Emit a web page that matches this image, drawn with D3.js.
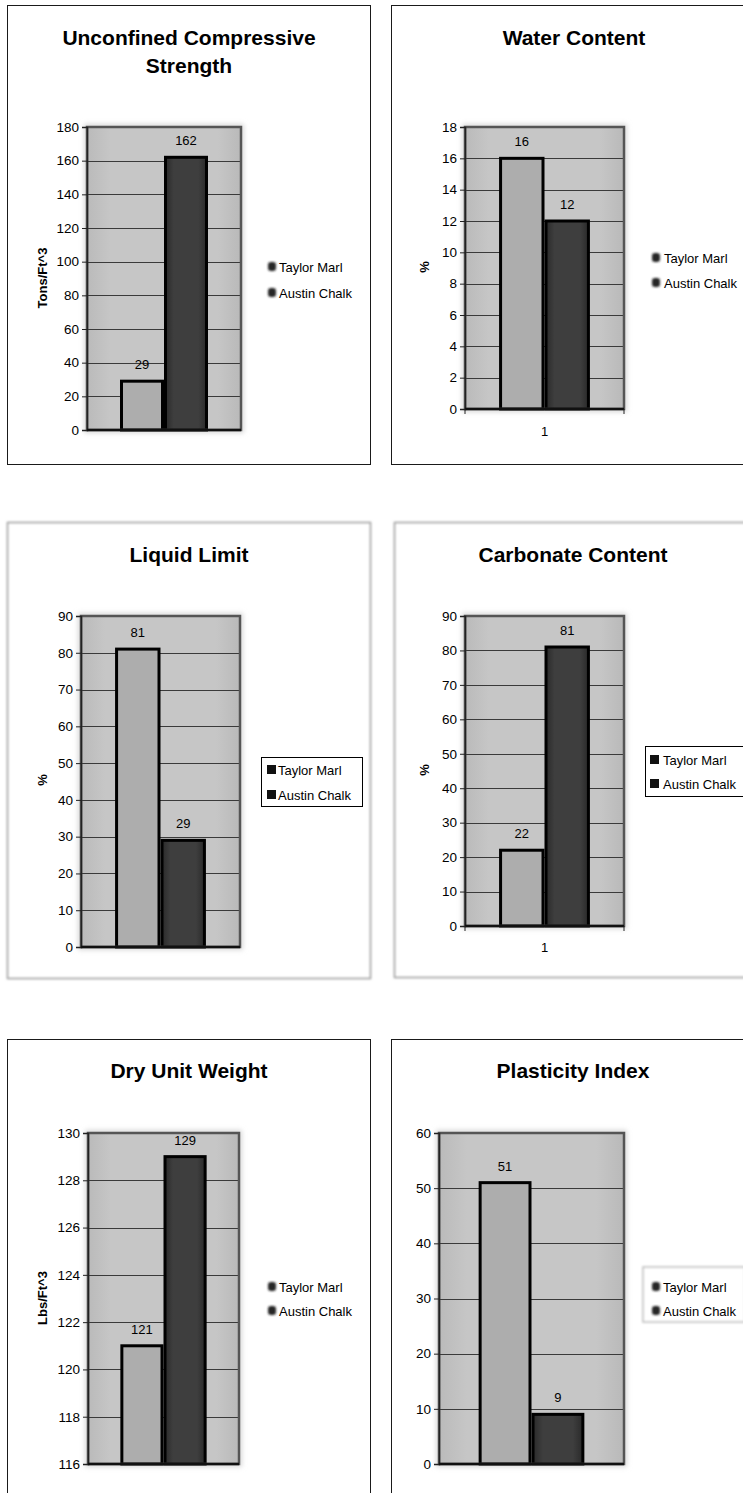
<!DOCTYPE html>
<html>
<head>
<meta charset="utf-8">
<script src="https://cdn.jsdelivr.net/npm/d3@7"></script>
<style>
  html, body { margin: 0; padding: 0; background: #fff; }
  svg { display: block; font-family: "Liberation Sans", Arial, sans-serif; }
</style>
</head>
<body>
<svg id="chart" width="743" height="1493"></svg>
<script>
// ---- data ----
const chartTitles = [
  ["Unconfined Compressive", "Strength"],
  ["Water Content"],
  ["Liquid Limit"],
  ["Carbonate Content"],
  ["Dry Unit Weight"],
  ["Plasticity Index"]
];
const seriesNames = ["Taylor Marl", "Austin Chalk"];
const taylorMarl  = [29, 16, 81, 22, 121, 51];
const austinChalk = [162, 12, 29, 81, 129, 9];
const yAxisTitles = ["Tons/Ft^3", "%", "%", "%", "Lbs/Ft^3", ""];
const categoryLabels = ["", "1", "", "1", "", ""];
const yTicks = [
  [0, 20, 40, 60, 80, 100, 120, 140, 160, 180],
  [0, 2, 4, 6, 8, 10, 12, 14, 16, 18],
  [0, 10, 20, 30, 40, 50, 60, 70, 80, 90],
  [0, 10, 20, 30, 40, 50, 60, 70, 80, 90],
  [116, 118, 120, 122, 124, 126, 128, 130],
  [0, 10, 20, 30, 40, 50, 60]
];

// ---- layout of each panel ----
const layouts = [
  { frame: [7, 5, 370, 464], frameStyle: "solid", titleX: 189, titleY: [45, 73],
    plot: [87, 127, 241, 430], yTitle: [42, 278],
    legend: { style: "soft", x: 261, y: 255, w: 0, h: 46, markX: 268, textX: 279, rows: [267, 293] } },
  { frame: [391, 5, 760, 464], frameStyle: "solid", titleX: 574, titleY: [45],
    plot: [465, 127, 624, 409], yTitle: [424, 267], catY: 436,
    legend: { style: "soft", x: 645, y: 246, w: 0, h: 50, markX: 652, textX: 664, rows: [258, 283] } },
  { frame: [7, 522, 370, 978], frameStyle: "faint", titleX: 189, titleY: [562],
    plot: [81, 616, 240, 947], yTitle: [42, 780],
    legend: { style: "box", x: 261, y: 757, w: 101, h: 49, markX: 267, textX: 278, rows: [770, 795] } },
  { frame: [394, 522, 760, 977], frameStyle: "faint", titleX: 573, titleY: [562],
    plot: [465, 616, 624, 926], yTitle: [424, 770], catY: 952,
    legend: { style: "box", x: 645, y: 746, w: 100, h: 50, markX: 650, textX: 663, rows: [760, 784] } },
  { frame: [7, 1039, 370, 1510], frameStyle: "solid", titleX: 189, titleY: [1078],
    plot: [88, 1133, 239, 1464], yTitle: [42, 1298],
    legend: { style: "soft", x: 261, y: 1275, w: 0, h: 48, markX: 268, textX: 279, rows: [1287, 1311] } },
  { frame: [391, 1039, 760, 1510], frameStyle: "solid", titleX: 573, titleY: [1078],
    plot: [439, 1133, 624, 1464], yTitle: null,
    legend: { style: "softbox", x: 643, y: 1267, w: 102, h: 55, markX: 652, textX: 663, rows: [1287, 1311] } }
];

const barFill = { "Taylor Marl": "#adadad", "Austin Chalk": "#3c3c3c" };

const svg = d3.select("#chart");
const defs = svg.append("defs");
defs.append("filter").attr("id", "soft").attr("x", "-50%").attr("y", "-50%")
  .attr("width", "200%").attr("height", "200%")
  .append("feGaussianBlur").attr("stdDeviation", 1.2);
defs.append("filter").attr("id", "haze").attr("x", "-20%").attr("y", "-20%")
  .attr("width", "140%").attr("height", "140%")
  .append("feGaussianBlur").attr("stdDeviation", 2.5);

const bgGrad = defs.append("linearGradient").attr("id", "plotbg")
  .attr("x1", "0").attr("x2", "1").attr("y1", "0").attr("y2", "0");
bgGrad.append("stop").attr("offset", "0").attr("stop-color", "#bababa");
bgGrad.append("stop").attr("offset", "0.15").attr("stop-color", "#c6c6c6");
bgGrad.append("stop").attr("offset", "0.85").attr("stop-color", "#c6c6c6");
bgGrad.append("stop").attr("offset", "1").attr("stop-color", "#b9b9b9");

const darkGrad = defs.append("linearGradient").attr("id", "darkbar")
  .attr("x1", "0").attr("x2", "1").attr("y1", "0").attr("y2", "0");
darkGrad.append("stop").attr("offset", "0").attr("stop-color", "#2a2a2a");
darkGrad.append("stop").attr("offset", "0.2").attr("stop-color", "#3e3e3e");
darkGrad.append("stop").attr("offset", "0.8").attr("stop-color", "#3e3e3e");
darkGrad.append("stop").attr("offset", "1").attr("stop-color", "#2a2a2a");

layouts.forEach((L, i) => {
  const g = svg.append("g").attr("class", "panel");
  const [fx0, fy0, fx1, fy1] = L.frame;

  // panel frame
  if (L.frameStyle === "solid") {
    g.append("rect").attr("x", fx0 + 0.5).attr("y", fy0 + 0.5)
      .attr("width", fx1 - fx0).attr("height", fy1 - fy0)
      .attr("fill", "none").attr("stroke", "#1a1a1a").attr("stroke-width", 1);
  } else {
    g.append("rect").attr("x", fx0 + 0.5).attr("y", fy0 + 0.5)
      .attr("width", fx1 - fx0).attr("height", fy1 - fy0)
      .attr("fill", "none").attr("stroke", "#9a9a9a").attr("stroke-width", 1.5)
      .attr("filter", "url(#soft)");
  }

  // title
  const title = g.append("text").attr("text-anchor", "middle")
    .attr("font-weight", "bold").attr("font-size", 21).attr("fill", "#000");
  chartTitles[i].forEach((line, k) => {
    title.append("tspan").attr("x", L.titleX).attr("y", L.titleY[k]).text(line);
  });

  const [px0, py0, px1, py1] = L.plot;
  const ticks = yTicks[i];
  const y = d3.scaleLinear().domain([ticks[0], ticks[ticks.length - 1]]).range([py1, py0]);
  const x = d3.scaleBand().domain(seriesNames).range([px0, px1])
    .paddingInner(0).paddingOuter(0.75);

  // plot background with soft edge
  g.append("rect").attr("x", px0 - 3).attr("y", py0 - 3)
    .attr("width", px1 - px0 + 6).attr("height", py1 - py0 + 6)
    .attr("fill", "#d8d8d8").attr("filter", "url(#haze)");
  g.append("rect").attr("x", px0).attr("y", py0)
    .attr("width", px1 - px0).attr("height", py1 - py0)
    .attr("fill", "url(#plotbg)");

  // gridlines
  g.append("g").selectAll("line").data(ticks.slice(1, -1)).join("line")
    .attr("x1", px0).attr("x2", px1)
    .attr("y1", d => Math.round(y(d)) + 0.5).attr("y2", d => Math.round(y(d)) + 0.5)
    .attr("stroke", "#3a3a3a").attr("stroke-width", 1);

  // bars
  const values = [taylorMarl[i], austinChalk[i]];
  const bars = seriesNames.map((s, k) => ({ series: s, value: values[k] }));
  g.append("g").selectAll("rect").data(bars).join("rect")
    .attr("x", d => x(d.series) + 1.5)
    .attr("y", d => y(d.value))
    .attr("width", x.bandwidth() - 3)
    .attr("height", d => y(ticks[0]) - y(d.value))
    .attr("fill", d => d.series === "Austin Chalk" ? "url(#darkbar)" : barFill[d.series])
    .attr("stroke", "#000").attr("stroke-width", 3);

  // value labels
  g.append("g").selectAll("text").data(bars).join("text")
    .attr("x", d => x(d.series) + x.bandwidth() / 2)
    .attr("y", d => y(d.value) - 12)
    .attr("text-anchor", "middle").attr("font-size", 13).attr("fill", "#000")
    .text(d => d.value);

  // plot border
  g.append("rect").attr("x", px0).attr("y", py0)
    .attr("width", px1 - px0).attr("height", py1 - py0)
    .attr("fill", "none").attr("stroke", "#555").attr("stroke-width", 2.5);

  // y axis
  const yAxis = d3.axisLeft(y).tickValues(ticks).tickSize(5).tickPadding(3);
  const ya = g.append("g").attr("transform", `translate(${px0},0)`).call(yAxis);
  ya.select(".domain").attr("stroke", "#222").attr("stroke-width", 1.5);
  ya.selectAll(".tick line").attr("stroke", "#222");
  ya.selectAll(".tick text").attr("font-size", 13.5).attr("fill", "#000")
    .attr("font-family", "Liberation Sans, Arial, sans-serif");

  // category axis
  const xa = g.append("g");
  xa.append("line").attr("x1", px0).attr("x2", px1).attr("y1", py1).attr("y2", py1)
    .attr("stroke", "#111").attr("stroke-width", 2.5);
  if (categoryLabels[i]) {
    xa.selectAll("line.tk").data([px0, px1]).join("line").attr("class", "tk")
      .attr("x1", d => d).attr("x2", d => d).attr("y1", py1).attr("y2", py1 + 5)
      .attr("stroke", "#222");
    xa.append("text").attr("x", (px0 + px1) / 2).attr("y", L.catY)
      .attr("text-anchor", "middle").attr("font-size", 13).attr("fill", "#000")
      .text(categoryLabels[i]);
  }

  // y axis title
  if (L.yTitle && yAxisTitles[i]) {
    g.append("text")
      .attr("transform", `translate(${L.yTitle[0]},${L.yTitle[1]}) rotate(-90)`)
      .attr("text-anchor", "middle").attr("dy", "0.35em")
      .attr("font-weight", "bold").attr("font-size", 13).attr("fill", "#000")
      .text(yAxisTitles[i]);
  }

  // legend
  const lg = L.legend;
  const leg = g.append("g");
  if (lg.style === "box") {
    leg.append("rect").attr("x", lg.x + 0.5).attr("y", lg.y + 0.5)
      .attr("width", lg.w).attr("height", lg.h)
      .attr("fill", "#fff").attr("stroke", "#000").attr("stroke-width", 1);
    leg.selectAll("rect.mk").data(seriesNames).join("rect").attr("class", "mk")
      .attr("x", lg.markX).attr("y", (d, k) => lg.rows[k] - 5)
      .attr("width", 9).attr("height", 9).attr("fill", "#111");
  } else {
    if (lg.style === "softbox") {
      leg.append("rect").attr("x", lg.x).attr("y", lg.y)
        .attr("width", lg.w).attr("height", lg.h)
        .attr("fill", "#fff").attr("stroke", "#bbb").attr("stroke-width", 1.5)
        .attr("filter", "url(#soft)");
    } else {
      leg.append("line").attr("x1", lg.x).attr("x2", lg.x)
        .attr("y1", lg.y).attr("y2", lg.y + lg.h)
        .attr("stroke", "#999").attr("stroke-width", 1.5).attr("filter", "url(#soft)");
    }
    leg.selectAll("rect.mk").data(seriesNames).join("rect").attr("class", "mk")
      .attr("x", lg.markX).attr("y", (d, k) => lg.rows[k] - 5)
      .attr("width", 8).attr("height", 9).attr("rx", 3)
      .attr("fill", "#262626").attr("filter", "url(#soft)");
  }
  leg.selectAll("text").data(seriesNames).join("text")
    .attr("x", lg.textX).attr("y", (d, k) => lg.rows[k])
    .attr("dy", "0.35em").attr("font-size", 13).attr("fill", "#000")
    .text(d => d);
});
</script>
</body>
</html>
